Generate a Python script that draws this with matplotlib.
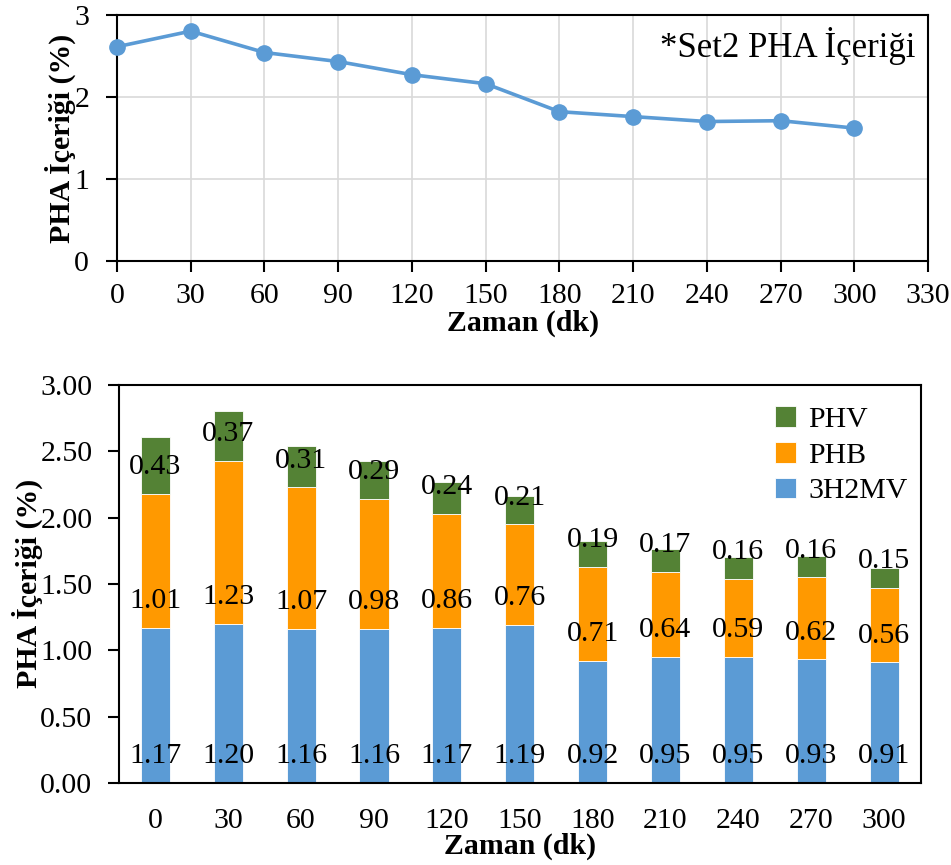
import numpy as np
import matplotlib
matplotlib.use("Agg")
import matplotlib.pyplot as plt

plt.rcParams["font.family"] = ["Liberation Serif", "DejaVu Serif"]

# ── Data ──────────────────────────────────────────────────────────────────────
time_min = [0, 30, 60, 90, 120, 150, 180, 210, 240, 270, 300]
pha_total = [2.61, 2.80, 2.54, 2.43, 2.27, 2.16, 1.82, 1.76, 1.70, 1.71, 1.62]

h2mv = [1.17, 1.20, 1.16, 1.16, 1.17, 1.19, 0.92, 0.95, 0.95, 0.93, 0.91]
phb = [1.01, 1.23, 1.07, 0.98, 0.86, 0.76, 0.71, 0.64, 0.59, 0.62, 0.56]
phv = [0.43, 0.37, 0.31, 0.29, 0.24, 0.21, 0.19, 0.17, 0.16, 0.16, 0.15]

BLUE = "#5B9BD5"
ORANGE = "#FF9900"
GREEN = "#548235"
FS = 21.5

fig = plt.figure(figsize=(9.51, 8.65), dpi=100)

# ── Top: line chart ───────────────────────────────────────────────────────────
ax1 = fig.add_axes([0.123, 0.698, 0.853, 0.285])
ax1.plot(time_min, pha_total, color=BLUE, lw=2.6, marker="o", ms=11, zorder=3,
         clip_on=False)
ax1.set_xlim(0, 330)
ax1.set_ylim(0, 3)
ax1.set_xticks(np.arange(0, 331, 30))
ax1.set_yticks([0, 1, 2, 3])
ax1.grid(True, color="#D9D9D9", lw=1.2)
ax1.set_axisbelow(True)
ax1.tick_params(labelsize=FS, direction="out", length=8, width=1.5)
ax1.tick_params(axis="x", pad=8)
ax1.tick_params(axis="y", pad=12)
for s in ax1.spines.values():
    s.set_linewidth(1.5)
ax1.set_xlabel("Zaman (dk)", fontsize=FS, fontweight="bold", labelpad=0)
ax1.set_ylabel("PHA İçeriği (%)", fontsize=FS, fontweight="bold", labelpad=-1)
ax1.text(0.984, 0.875, "*Set2 PHA İçeriği", transform=ax1.transAxes,
         ha="right", va="center", fontsize=25)

# ── Bottom: stacked bars ──────────────────────────────────────────────────────
ax2 = fig.add_axes([0.125, 0.095, 0.843, 0.46])
x = np.arange(len(time_min))
w = 0.4
base2 = np.array(h2mv)
base3 = base2 + np.array(phb)
b1 = ax2.bar(x, h2mv, w, color=BLUE, edgecolor="white", lw=0.6, label="3H2MV")
b2 = ax2.bar(x, phb, w, bottom=base2, color=ORANGE, edgecolor="white", lw=0.6, label="PHB")
b3 = ax2.bar(x, phv, w, bottom=base3, color=GREEN, edgecolor="white", lw=0.6, label="PHV")

for i in x:
    ax2.text(i, 0.2, f"{h2mv[i]:.2f}", ha="center", va="center", fontsize=FS)
    ax2.text(i, base2[i] + 0.2, f"{phb[i]:.2f}", ha="center", va="center", fontsize=FS)
    ax2.text(i, base3[i] + 0.2, f"{phv[i]:.2f}", ha="center", va="center", fontsize=FS)

ax2.set_xlim(-0.5, len(x) - 0.5)
ax2.set_ylim(0, 3)
ax2.set_yticks(np.arange(0, 3.01, 0.5))
ax2.set_yticklabels([f"{v:.2f}" for v in np.arange(0, 3.01, 0.5)])
ax2.set_xticks(x)
ax2.set_xticklabels([str(t) for t in time_min])
ax2.tick_params(labelsize=FS, direction="out", length=8, width=1.5)
ax2.tick_params(axis="x", length=0, pad=18)
ax2.tick_params(axis="y", pad=11)
for s in ax2.spines.values():
    s.set_linewidth(1.5)
ax2.set_xlabel("Zaman (dk)", fontsize=FS, fontweight="bold", labelpad=-1)
ax2.set_ylabel("PHA İçeriği (%)", fontsize=FS, fontweight="bold", labelpad=-2)
ax2.legend(handles=[b3, b2, b1], loc="upper right", frameon=False, fontsize=FS,
           handlelength=0.7, handleheight=0.7, handletextpad=0.4,
           labelspacing=0.3, bbox_to_anchor=(1.01, 1.0), borderaxespad=0.3)

fig.savefig("out.png", dpi=100)
